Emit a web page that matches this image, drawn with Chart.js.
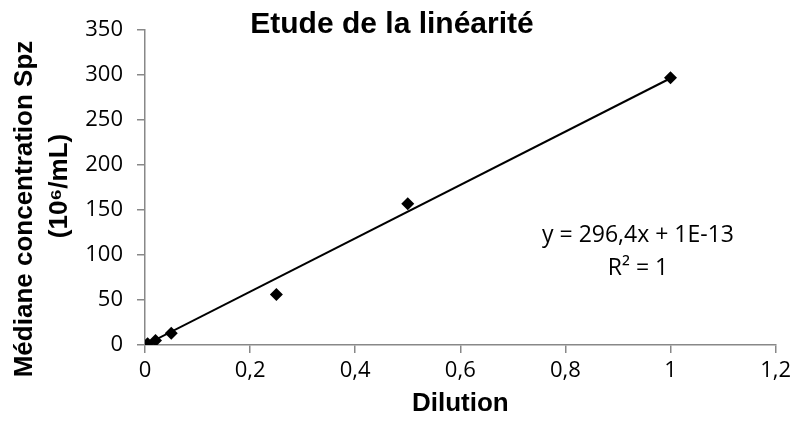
<!DOCTYPE html>
<html>
<head>
<meta charset="utf-8">
<script src="https://cdn.jsdelivr.net/npm/chart.js@4/dist/chart.umd.min.js"></script>
<style>
  html, body { margin: 0; padding: 0; background: #fff; }
  #wrap { width: 796px; height: 430px; position: relative; }
</style>
</head>
<body>
<div id="wrap"><canvas id="chart"></canvas></div>
<script>
// mesures (dilution -> médiane concentration)
const dilutions = [0.005, 0.02, 0.05, 0.25, 0.5, 1];
const concentrations = [1.5, 5, 13, 56, 157, 297];

// courbe de tendance linéaire (Excel)
const trendX = [0, 1];
const trendY = [0, 296.4];
const equationLines = ['y = 296,4x + 1E-13', 'R² = 1'];

const xTicks = [0, 0.2, 0.4, 0.6, 0.8, 1, 1.2];
const yTicks = [0, 50, 100, 150, 200, 250, 300, 350];

const chartTitle = 'Etude de la linéarité';
const xTitle = 'Dilution';
const yTitleLines = ['Médiane concentration Spz', '(10⁶/mL)'];

const axisColor = '#888888';
const tickFont = { family: '"Open Sans", sans-serif', size: 22 };

// titres dessinés à la main pour coller au placement Excel
const titlesPlugin = {
    id: 'titles',
    afterDraw(chart) {
        const ctx = chart.ctx;
        const area = chart.chartArea;
        ctx.save();
        ctx.fillStyle = '#000';
        ctx.textAlign = 'center';
        ctx.textBaseline = 'middle';

        ctx.font = 'bold 30px "Liberation Sans", Arial, sans-serif';
        ctx.fillText(chartTitle, 392, 25);

        ctx.font = 'bold 26px "Liberation Sans", Arial, sans-serif';
        ctx.fillText(xTitle, (area.left + area.right) / 2, 404);

        ctx.save();
        ctx.translate(25, 209);
        ctx.rotate(-Math.PI / 2);
        ctx.fillText(yTitleLines[0], 0, 0);
        ctx.restore();
        ctx.save();
        ctx.translate(60, 186);
        ctx.rotate(-Math.PI / 2);
        ctx.fillText(yTitleLines[1], 0, 0);
        ctx.restore();

        ctx.font = '23px "Open Sans", sans-serif';
        ctx.fillText(equationLines[0], 638, 235);
        ctx.fillText(equationLines[1], 638, 268);
        ctx.restore();
    }
};

const fmt = v => String(Math.round(v * 10) / 10).replace('.', ',');

new Chart(document.getElementById('chart'), {
    type: 'scatter',
    data: {
        datasets: [
            {
                label: 'Médiane',
                data: dilutions.map((x, i) => ({ x: x, y: concentrations[i] })),
                pointStyle: 'rectRot',
                pointRadius: 6.5,
                pointHoverRadius: 6.5,
                backgroundColor: '#000',
                borderColor: '#000',
                borderWidth: 0,
                order: 1
            },
            {
                label: 'Tendance',
                type: 'line',
                data: trendX.map((x, i) => ({ x: x, y: trendY[i] })),
                borderColor: '#000',
                borderWidth: 2,
                pointRadius: 0,
                fill: false,
                order: 2
            }
        ]
    },
    options: {
        responsive: true,
        maintainAspectRatio: false,
        animation: false,
        devicePixelRatio: 1,
        layout: { padding: { top: 30, right: 19, left: 0, bottom: 0 } },
        plugins: {
            legend: { display: false },
            tooltip: { enabled: false },
            title: { display: false }
        },
        scales: {
            x: {
                type: 'linear',
                min: 0,
                max: 1.2,
                afterBuildTicks: s => { s.ticks = xTicks.map(v => ({ value: v })); },
                afterFit: s => { s.height = 85; },
                grid: {
                    drawOnChartArea: false,
                    drawTicks: true,
                    tickLength: 8,
                    color: axisColor,
                    lineWidth: 1.5
                },
                border: { color: axisColor, width: 1.5 },
                ticks: {
                    color: '#000',
                    font: tickFont,
                    padding: 5,
                    maxRotation: 0,
                    callback: v => fmt(v)
                }
            },
            y: {
                type: 'linear',
                min: 0,
                max: 350,
                afterBuildTicks: s => { s.ticks = yTicks.map(v => ({ value: v })); },
                afterFit: s => { s.width = 145; },
                grid: {
                    drawOnChartArea: false,
                    drawTicks: true,
                    tickLength: 8,
                    color: axisColor,
                    lineWidth: 1.5
                },
                border: { color: axisColor, width: 1.5 },
                ticks: {
                    color: '#000',
                    font: tickFont,
                    padding: 14,
                    callback: v => fmt(v)
                }
            }
        }
    },
    plugins: [titlesPlugin]
});
</script>
</body>
</html>
